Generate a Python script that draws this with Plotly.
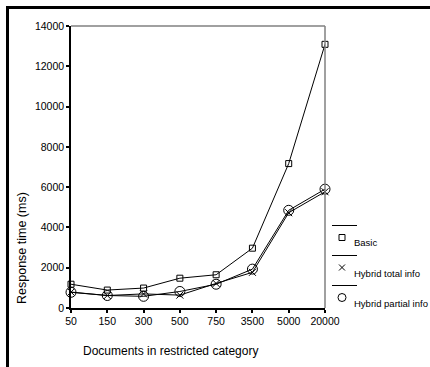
import plotly.graph_objects as go

categories = ["50", "150", "300", "500", "750", "3500", "5000", "20000"]
basic = [1180, 890, 990, 1480, 1650, 2970, 7170, 13090]
hybrid_total = [790, 620, 700, 640, 1220, 1770, 4730, 5770]
hybrid_partial = [780, 620, 580, 820, 1180, 1930, 4850, 5900]
series_names = ["Basic", "Hybrid total info", "Hybrid partial info"]

W, H = 430, 367
L, R, T, B = 71, 325, 26, 308

def px(x):
    return (x - L) / (R - L)

def py(y):
    return (B - y) / (B - T)

fig = go.Figure()
styles = [("square-open", 6), ("x-thin-open", 7), ("circle-open", 10)]
for name, vals, (sym, sz) in zip(series_names, [basic, hybrid_total, hybrid_partial], styles):
    fig.add_trace(go.Scatter(
        x=categories, y=vals, mode="lines+markers", name=name,
        line=dict(color="black", width=1),
        marker=dict(symbol=sym, size=sz, color="black", line=dict(color="black", width=1)),
        showlegend=False, cliponaxis=False,
    ))

font = "Arial"
shapes = []
# outer thick border (top & left)
shapes.append(dict(type="line", xref="paper", yref="paper", x0=px(6), x1=px(430), y0=py(7.5), y1=py(7.5),
                   line=dict(color="black", width=3), layer="above"))
shapes.append(dict(type="line", xref="paper", yref="paper", x0=px(7.5), x1=px(7.5), y0=py(6), y1=py(367),
                   line=dict(color="black", width=3), layer="above"))
# gray frame top & right
shapes.append(dict(type="line", xref="paper", yref="paper", x0=0, x1=1, y0=1, y1=1,
                   line=dict(color="#808080", width=1.5)))
shapes.append(dict(type="line", xref="paper", yref="paper", x0=1, x1=1, y0=0, y1=1,
                   line=dict(color="#808080", width=1.5)))

annotations = []
# legend
leg_line_y = [225.5, 255.5, 285.5]
marker_y = [237.5, 267.5, 297.5]
text_y = [243, 273, 303]
for i, name in enumerate(series_names):
    shapes.append(dict(type="line", xref="paper", yref="paper", x0=px(332), x1=px(357),
                       y0=py(leg_line_y[i]), y1=py(leg_line_y[i]), line=dict(color="black", width=1)))
    mx, my = 342, marker_y[i]
    if i == 0:
        shapes.append(dict(type="rect", xref="paper", yref="paper", x0=px(mx - 3), x1=px(mx + 3),
                           y0=py(my - 3), y1=py(my + 3), line=dict(color="black", width=1)))
    elif i == 1:
        shapes.append(dict(type="line", xref="paper", yref="paper", x0=px(mx - 3), x1=px(mx + 3),
                           y0=py(my - 3), y1=py(my + 3), line=dict(color="black", width=1)))
        shapes.append(dict(type="line", xref="paper", yref="paper", x0=px(mx - 3), x1=px(mx + 3),
                           y0=py(my + 3), y1=py(my - 3), line=dict(color="black", width=1)))
    else:
        shapes.append(dict(type="circle", xref="paper", yref="paper", x0=px(mx - 4), x1=px(mx + 4),
                           y0=py(my - 4), y1=py(my + 4), line=dict(color="black", width=1)))
    annotations.append(dict(text=name, xref="paper", yref="paper", x=px(352), y=py(text_y[i]),
                            xanchor="left", yanchor="middle", showarrow=False,
                            font=dict(family=font, size=9.5, color="black")))

annotations.append(dict(text="Response time (ms)", xref="paper", yref="paper", x=px(22), y=py(248),
                        textangle=-90, xanchor="center", yanchor="middle", showarrow=False,
                        font=dict(family=font, size=12.5, color="black")))
annotations.append(dict(text="Documents in restricted category", xref="paper", yref="paper",
                        x=px(170), y=py(351), xanchor="center", yanchor="middle", showarrow=False,
                        font=dict(family=font, size=12, color="black")))

fig.update_layout(
    width=W, height=H,
    margin=dict(l=L, r=W - R, t=T, b=H - B, pad=0),
    paper_bgcolor="white", plot_bgcolor="white",
    font=dict(family=font, size=10.5, color="black"),
    shapes=shapes, annotations=annotations,
    xaxis=dict(type="category", range=[0, 7], showgrid=False, zeroline=False,
               showline=True, linecolor="black", linewidth=1.5,
               ticks="outside", ticklen=3, tickwidth=1.5, tickcolor="black",
               tickfont=dict(family=font, size=10.5)),
    yaxis=dict(range=[0, 14000], dtick=2000, tickformat="d", showgrid=False, zeroline=False,
               showline=True, linecolor="black", linewidth=1.5,
               ticks="outside", ticklen=3, tickwidth=1.5, tickcolor="black",
               tickfont=dict(family=font, size=10.5)),
)

fig.write_html(
    "out.html",
    config={"displayModeBar": False},
    post_script="document.body.style.margin='0';document.body.style.overflow='hidden';",
)
